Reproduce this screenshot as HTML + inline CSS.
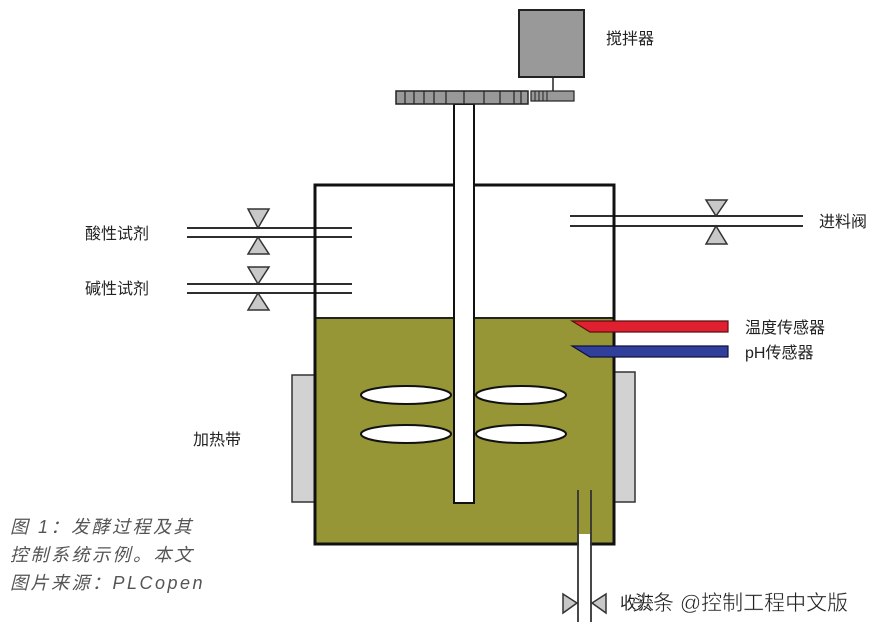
<!DOCTYPE html>
<html><head><meta charset="utf-8"><style>
html,body{margin:0;padding:0;background:#fff;}
svg{display:block;}
text{font-family:"Liberation Sans","Noto Sans CJK SC",sans-serif;}
</style></head><body>
<svg width="877" height="627" viewBox="0 0 877 627" xmlns="http://www.w3.org/2000/svg">
<rect width="877" height="627" fill="#fff"/>
<rect x="292" y="375" width="24" height="127" fill="#d2d2d2" stroke="#333" stroke-width="1.5"/>
<rect x="613" y="372" width="22" height="130" fill="#d2d2d2" stroke="#333" stroke-width="1.5"/>
<rect x="315" y="318" width="299" height="226" fill="#979636"/>
<line x1="315" y1="318" x2="614" y2="318" stroke="#222" stroke-width="2"/>
<rect x="315" y="185" width="299" height="359" fill="none" stroke="#111" stroke-width="3"/>
<rect x="579" y="534" width="11" height="12" fill="#fff"/>
<ellipse cx="406" cy="395" rx="45" ry="9" fill="#fff" stroke="#111" stroke-width="2"/>
<ellipse cx="521" cy="395" rx="45" ry="9" fill="#fff" stroke="#111" stroke-width="2"/>
<ellipse cx="406" cy="434" rx="45" ry="9" fill="#fff" stroke="#111" stroke-width="2"/>
<ellipse cx="521" cy="434" rx="45" ry="9" fill="#fff" stroke="#111" stroke-width="2"/>
<rect x="454" y="104" width="20" height="399" fill="#fff" stroke="#111" stroke-width="2"/>
<rect x="396" y="91" width="132" height="13" fill="#999" stroke="#222" stroke-width="1.5"/>
<g stroke="#222" stroke-width="1.2">
<line x1="405" y1="91" x2="405" y2="104"/><line x1="414" y1="91" x2="414" y2="104"/>
<line x1="424" y1="91" x2="424" y2="104"/><line x1="434" y1="91" x2="434" y2="104"/>
<line x1="446" y1="91" x2="446" y2="104"/><line x1="464" y1="91" x2="464" y2="104"/>
<line x1="484" y1="91" x2="484" y2="104"/><line x1="500" y1="91" x2="500" y2="104"/>
<line x1="514" y1="91" x2="514" y2="104"/><line x1="521" y1="91" x2="521" y2="104"/>
</g>
<rect x="531" y="91" width="43" height="10" fill="#999" stroke="#222" stroke-width="1.2"/>
<g stroke="#222" stroke-width="1"><line x1="535" y1="91" x2="535" y2="101"/><line x1="539" y1="91" x2="539" y2="101"/><line x1="543" y1="91" x2="543" y2="101"/><line x1="547" y1="91" x2="547" y2="101"/></g>
<line x1="553" y1="77" x2="553" y2="91" stroke="#222" stroke-width="1.5"/>
<rect x="519" y="10" width="65" height="67" fill="#999" stroke="#222" stroke-width="2"/>
<text x="606" y="44" font-size="16" fill="#222">搅拌器</text>
<g stroke="#111" stroke-width="1.8">
<line x1="187" y1="228" x2="352" y2="228"/><line x1="187" y1="237" x2="352" y2="237"/>
<line x1="187" y1="284" x2="352" y2="284"/><line x1="187" y1="293" x2="352" y2="293"/>
<line x1="570" y1="216" x2="803" y2="216"/><line x1="570" y1="226" x2="803" y2="226"/>
</g>
<g fill="#c8c8c8" stroke="#333" stroke-width="1.5">
<polygon points="248,209 269,209 258,228"/><polygon points="248,254 269,254 258,237"/>
<polygon points="248,267 269,267 258,284"/><polygon points="248,310 269,310 258,293"/>
<polygon points="706,200 727,200 716,216"/><polygon points="706,244 727,244 716,226"/>
</g>
<text x="85" y="239" font-size="16" fill="#222">酸性试剂</text>
<text x="85" y="294" font-size="16" fill="#222">碱性试剂</text>
<text x="819" y="227" font-size="16" fill="#222">进料阀</text>
<polygon points="572,321 728,321 728,332 590,332" fill="#e02030" stroke="#5a1010" stroke-width="1.2"/>
<polygon points="572,346 728,346 728,357 590,357" fill="#2f3f9a" stroke="#101040" stroke-width="1.2"/>
<text x="745" y="333" font-size="16" fill="#222">温度传感器</text>
<text x="745" y="358" font-size="16" fill="#222">pH传感器</text>
<text x="193" y="445" font-size="16" fill="#222">加热带</text>
<g stroke="#333" stroke-width="1.8">
<line x1="578" y1="490" x2="578" y2="622"/><line x1="591" y1="490" x2="591" y2="622"/>
</g>
<g fill="#c8c8c8" stroke="#333" stroke-width="1.5">
<polygon points="563,594 563,613 577,603"/><polygon points="606,594 606,613 592,603"/>
</g>
<text x="620" y="609" font-size="17" fill="#222">收获</text>
<text x="632" y="610" font-size="21" fill="#222" stroke="#fff" stroke-width="0.4">头条 @控制工程中文版</text>
<g font-size="18" fill="#555" font-style="italic" letter-spacing="2.5">
<text x="10" y="533">图 1：发酵过程及其</text>
<text x="10" y="561">控制系统示例。本文</text>
<text x="10" y="589">图片来源：PLCopen</text>
</g>
</svg>
</body></html>
